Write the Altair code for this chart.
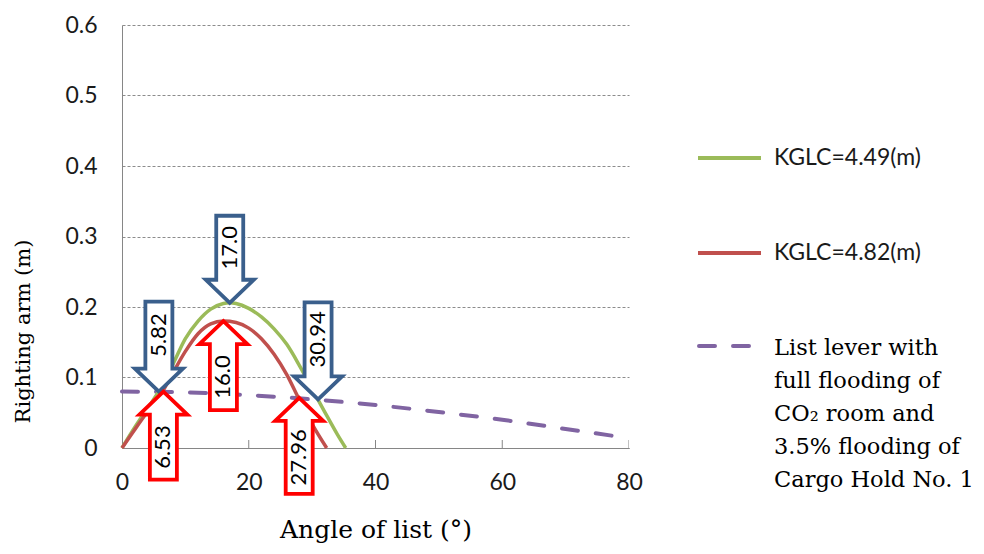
import altair as alt
import pandas as pd

# ---------------- data ----------------
angle_green = [0, 2, 4, 6, 8, 10, 12, 14, 16, 17, 18, 20, 22, 24, 26, 28, 30, 32, 34, 35.3]
gz_green = [0, 0.029, 0.056, 0.083, 0.118, 0.155, 0.180, 0.197, 0.205, 0.206, 0.205, 0.198,
            0.186, 0.169, 0.147, 0.117, 0.084, 0.051, 0.019, 0]

angle_red = [0, 2, 4, 6, 8, 10, 12, 14, 16, 18, 20, 22, 24, 26, 28, 30, 32.3]
gz_red = [0, 0.026, 0.051, 0.074, 0.106, 0.137, 0.162, 0.176, 0.180, 0.178, 0.170,
          0.155, 0.133, 0.104, 0.068, 0.034, 0]

angle_list = [0, 10, 20, 30, 40, 50, 60, 70, 80]
lever_list = [0.080, 0.079, 0.075, 0.069, 0.061, 0.051, 0.040, 0.027, 0.014]

arrow_labels = ["17.0", "5.82", "30.94", "16.0", "6.53", "27.96"]
arrow_angles = [17.0, 5.82, 30.94, 16.0, 6.53, 27.96]
arrow_tips = [0.206, 0.080, 0.069, 0.180, 0.080, 0.071]
arrow_dirs = ["down", "down", "down", "up", "up", "up"]

legend_labels = [
    "KGLC=4.49(m)",
    "KGLC=4.82(m)",
    "List lever with\nfull flooding of\nCO\u2082 room and\n3.5% flooding of\nCargo Hold No. 1",
]

x_ticks = [0, 20, 40, 60, 80]
y_ticks = [0, 0.1, 0.2, 0.3, 0.4, 0.5, 0.6]

# ---------------- styles ----------------
GREEN = "#9BBB59"
RED = "#C0504D"
PURPLE = "#8064A2"
ARROW_BLUE = "#3A5F8C"
ARROW_RED = "#FF0000"
AXIS_GRAY = "#868686"
SANS = "Lato"
SERIF = "DejaVu Serif"
W, H = 507, 423
arrow_len = {"17.0": 87, "5.82": 90, "30.94": 97, "16.0": 89, "6.53": 88, "27.96": 96}
HEAD_H, HEAD_HW, BOX_HW = 23, 24, 13.5


def arrow_path(direction, length):
    s = -1 if direction == "down" else 1
    pts = [(0, 0), (-HEAD_HW, s * HEAD_H), (-BOX_HW, s * HEAD_H), (-BOX_HW, s * length),
           (BOX_HW, s * length), (BOX_HW, s * HEAD_H), (HEAD_HW, s * HEAD_H)]
    return "M" + " L".join(f"{x},{y}" for x, y in pts) + " Z"


xscale = alt.Scale(domain=[0, 80], nice=False, zero=False)
yscale = alt.Scale(domain=[0, 0.6], nice=False)

x_axis = alt.Axis(values=x_ticks, grid=False, ticks=False, domainColor=AXIS_GRAY,
                  labelFont=SANS, labelFontSize=23, labelColor="#1a1a1a", labelPadding=23,
                  labelFlush=False, title="Angle of list (°)", titleFont=SERIF,
                  titleFontSize=25, titleFontWeight="normal", titleColor="#000000",
                  titlePadding=23)
y_axis = alt.Axis(values=y_ticks, format=".1~f", grid=True, gridDash=[3, 2],
                  gridColor="#8c8c8c", gridWidth=1, ticks=False, domainColor=AXIS_GRAY,
                  labelFont=SANS, labelFontSize=23, labelColor="#1a1a1a", labelPadding=25,
                  labelFlush=False, title="Righting arm (m)", titleFont=SERIF,
                  titleFontSize=21, titleFontWeight="normal", titleColor="#000000",
                  titlePadding=31, titleY=306)

x_enc = alt.X("angle:Q", scale=xscale, axis=x_axis)
y_enc = alt.Y("gz:Q", scale=yscale, axis=y_axis)

df_green = pd.DataFrame({"angle": angle_green, "gz": gz_green})
df_red = pd.DataFrame({"angle": angle_red, "gz": gz_red})
df_list = pd.DataFrame({"angle": angle_list, "gz": lever_list})
df_ticks = pd.DataFrame({"angle": x_ticks, "gz": [0] * len(x_ticks)})

layers = []
layers.append(alt.Chart(df_ticks).mark_tick(orient="vertical", size=16, thickness=1,
                                            color=AXIS_GRAY, clip=True, opacity=1)
              .encode(x=x_enc, y=y_enc))
layers.append(alt.Chart(df_list).mark_line(color=PURPLE, strokeWidth=4, strokeDash=[16, 18],
                                           strokeCap="round", interpolate="monotone")
              .encode(x=x_enc, y=y_enc))
layers.append(alt.Chart(df_green).mark_line(color=GREEN, strokeWidth=3.5, interpolate="monotone")
              .encode(x=x_enc, y=y_enc))
layers.append(alt.Chart(df_red).mark_line(color=RED, strokeWidth=3.5, interpolate="monotone")
              .encode(x=x_enc, y=y_enc))

for lab, ang, tip, d in zip(arrow_labels, arrow_angles, arrow_tips, arrow_dirs):
    L = arrow_len[lab]
    col = ARROW_BLUE if d == "down" else ARROW_RED
    dfa = pd.DataFrame({"angle": [ang], "gz": [tip], "label": [lab]})
    layers.append(alt.Chart(dfa).mark_point(shape=arrow_path(d, L), size=4, filled=True,
                                            fill="white", stroke=col, strokeWidth=3.8,
                                            strokeJoin="miter", opacity=1)
                  .encode(x=x_enc, y=y_enc))
    off = (L + HEAD_H) / 2
    layers.append(alt.Chart(dfa).mark_text(angle=270, dx=off if d == "down" else -off,
                                           font=SANS, fontSize=22, color="#000000",
                                           align="center", baseline="middle")
                  .encode(x=x_enc, y=y_enc, text="label:N"))

plot = alt.layer(*layers).properties(width=W, height=H)

# ---------------- manual legend ----------------
df_leg = pd.DataFrame({"label": legend_labels})
LX0, LX1, TX = 69, 132, 145
leg_layers = [
    alt.Chart(df_leg.iloc[[0]]).mark_rule(color=GREEN, strokeWidth=4)
    .encode(x=alt.value(LX0), x2=alt.value(LX1), y=alt.value(133)),
    alt.Chart(df_leg.iloc[[1]]).mark_rule(color=RED, strokeWidth=4)
    .encode(x=alt.value(LX0), x2=alt.value(LX1), y=alt.value(228)),
    alt.Chart(df_leg.iloc[[2]]).mark_rule(color=PURPLE, strokeWidth=4, strokeDash=[16, 18],
                                          strokeCap="round")
    .encode(x=alt.value(LX0 + 1), x2=alt.value(LX0 + 53), y=alt.value(321)),
    alt.Chart(df_leg.iloc[[0]]).mark_text(font=SANS, fontSize=23, align="left",
                                          baseline="middle", color="#1a1a1a")
    .encode(x=alt.value(TX), y=alt.value(133), text="label:N"),
    alt.Chart(df_leg.iloc[[1]]).mark_text(font=SANS, fontSize=23, align="left",
                                          baseline="middle", color="#1a1a1a")
    .encode(x=alt.value(TX), y=alt.value(228), text="label:N"),
    alt.Chart(df_leg.iloc[[2]]).mark_text(font=SERIF, fontSize=22.5, align="left",
                                          baseline="alphabetic", lineBreak="\n",
                                          lineHeight=33, color="#000000")
    .encode(x=alt.value(TX), y=alt.value(330), text="label:N"),
]
legend = alt.layer(*leg_layers).properties(width=300, height=H)

chart = (alt.hconcat(plot, legend, spacing=0, bounds="flush")
         .configure_view(stroke="transparent")
         .properties(padding={"left": 4, "top": 5, "right": 0, "bottom": 0}))

chart.save("out.html", embed_options={"renderer": "svg", "actions": False})
